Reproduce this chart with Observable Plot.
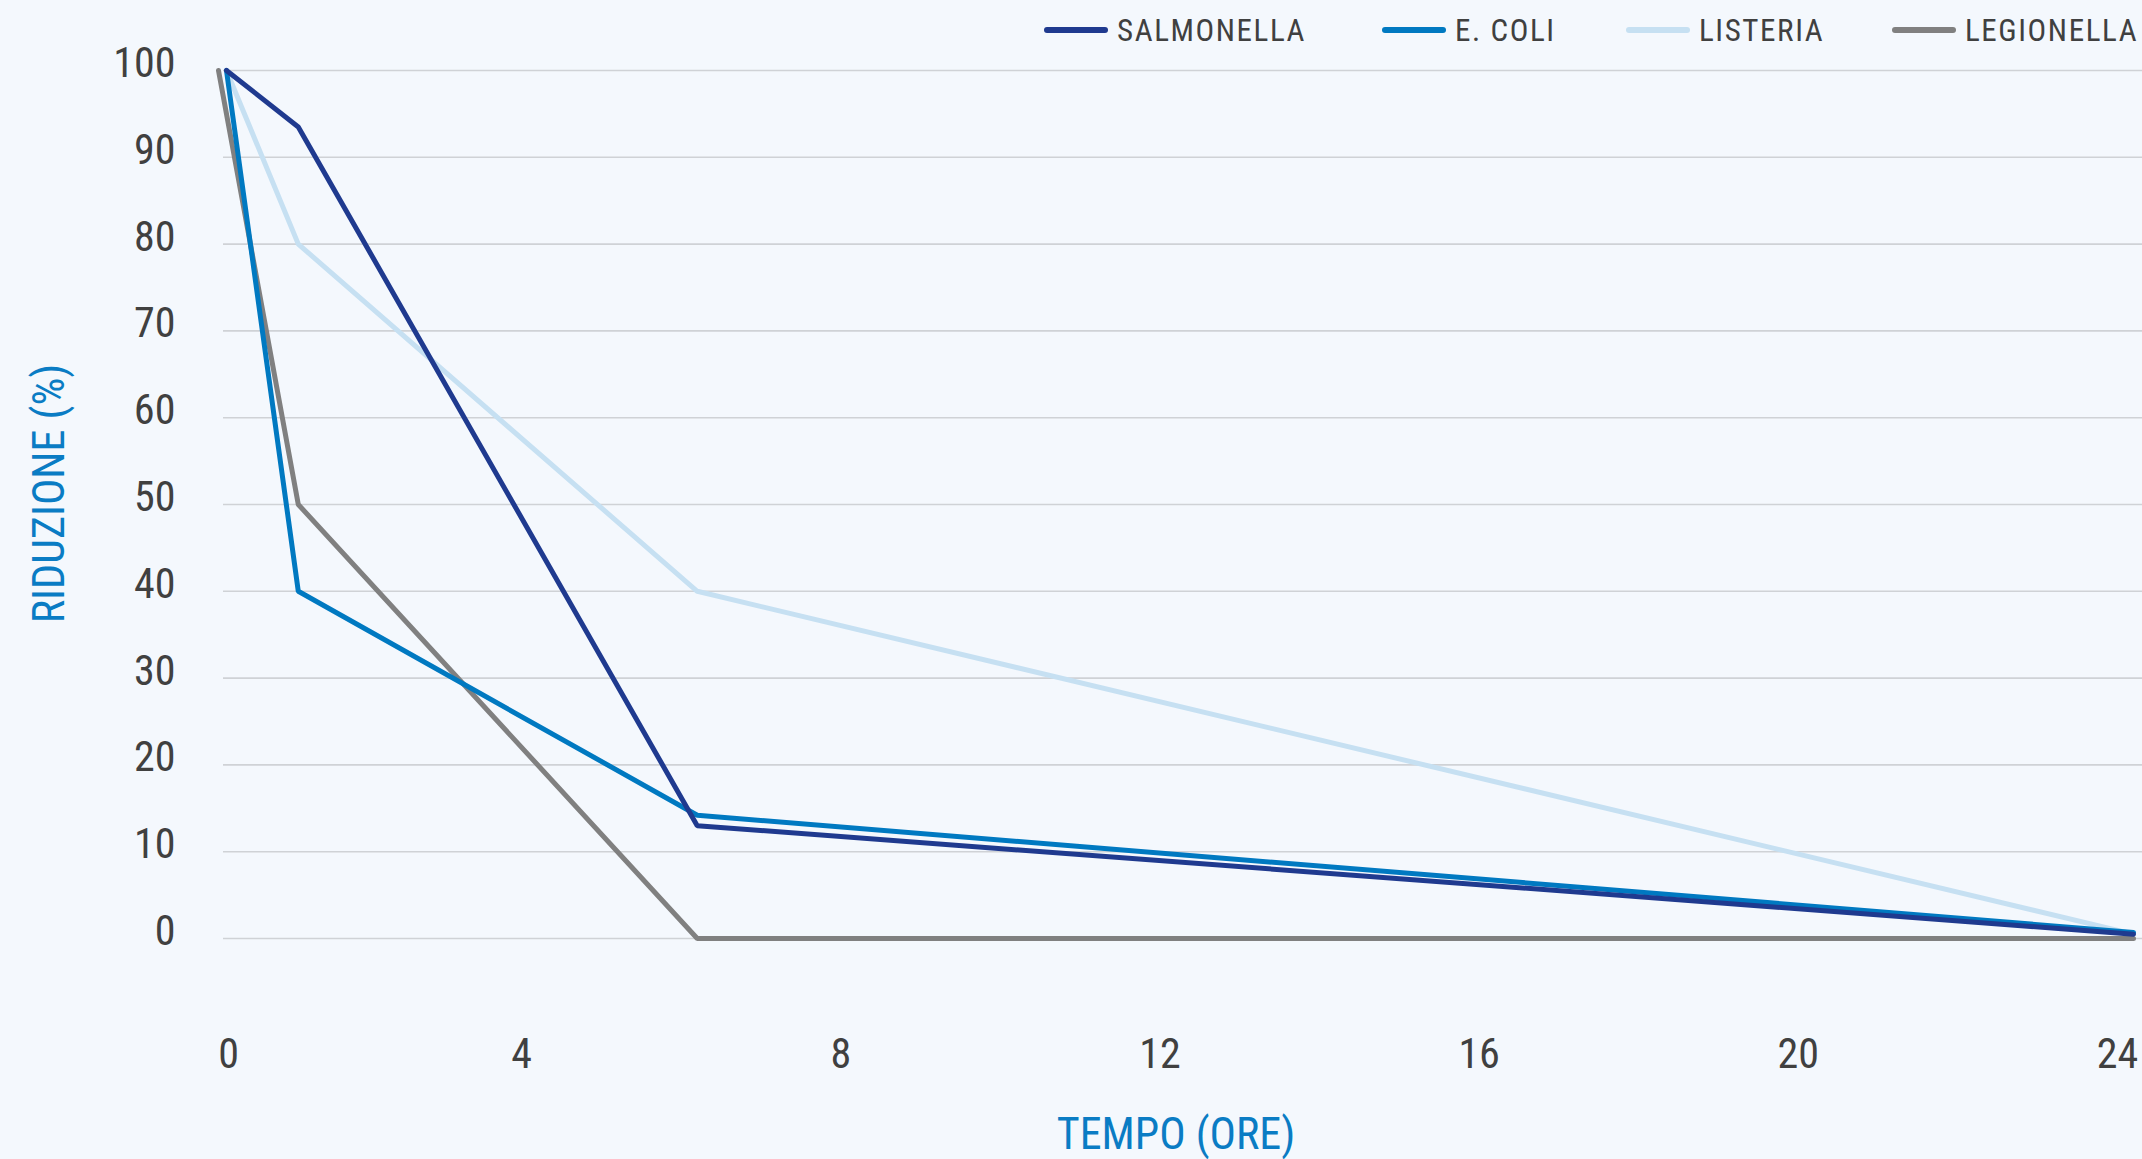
<!DOCTYPE html>
<html>
<head>
<meta charset="utf-8">
<script src="https://cdn.jsdelivr.net/npm/d3@7"></script>
<script src="https://cdn.jsdelivr.net/npm/@observablehq/plot@0.6"></script>
<style>
  html, body { margin: 0; padding: 0; background: #f4f8fd; }
  #wrap { position: relative; width: 2142px; height: 1159px; background: #f4f8fd; font-family: "Roboto Condensed", "Liberation Sans Narrow", "Roboto", sans-serif; }
  #legend { position: absolute; top: 0; left: 0; width: 2142px; height: 60px; }
  .item { position: absolute; top: 12px; display: flex; align-items: center; height: 36px; }
  .sw { width: 64px; height: 6px; border-radius: 3px; margin-right: 9px; }
  .lab { font-size: 31px; color: #404040; letter-spacing: 1.6px; white-space: nowrap; }
  #chart { position: absolute; top: 0; left: 0; }
</style>
</head>
<body>
<div id="wrap">
  <div id="chart"></div>
  <div id="legend"></div>
</div>
<script>
// ---- data ----
const seriesNames = ["SALMONELLA", "E. COLI", "LISTERIA", "LEGIONELLA"];
const seriesColors = ["#1f3a8f", "#0079c1", "#c6e0f2", "#808080"];

const salmonellaHours = [0.1, 1, 6, 24];
const salmonellaValues = [100, 93.5, 13.0, 0.5];

const eColiHours = [0.1, 1, 6, 24];
const eColiValues = [100, 40, 14.2, 0.7];

const listeriaHours = [0.1, 1, 6, 24];
const listeriaValues = [100, 80, 40, 0.5];

const legionellaHours = [0, 1, 6, 24];
const legionellaValues = [100, 50, 0, 0];

const xTicks = [0, 4, 8, 12, 16, 20, 24];
const yTicks = [0, 10, 20, 30, 40, 50, 60, 70, 80, 90, 100];
const xTitle = "TEMPO (ORE)";
const yTitle = "RIDUZIONE (%)";

// ---- build table ----
function rows(name, hours, values) {
  return hours.map((h, i) => ({series: name, hour: h, value: values[i]}));
}
const data = [
  ...rows("SALMONELLA", salmonellaHours, salmonellaValues),
  ...rows("E. COLI", eColiHours, eColiValues),
  ...rows("LISTERIA", listeriaHours, listeriaValues),
  ...rows("LEGIONELLA", legionellaHours, legionellaValues)
];
const drawOrder = ["LISTERIA", "LEGIONELLA", "E. COLI", "SALMONELLA"];

const textColor = "#404040";
const titleColor = "#0a7cc4";

const chart = Plot.plot({
  width: 2142,
  height: 1159,
  marginLeft: 218,
  marginRight: 9,
  marginTop: 70,
  marginBottom: 221,
  style: {background: "transparent", fontFamily: "'Roboto Condensed', 'Liberation Sans Narrow', Roboto, sans-serif", color: textColor},
  x: {domain: [0, 24]},
  y: {domain: [0, 100]},
  color: {domain: seriesNames, range: seriesColors},
  marks: [
    Plot.ruleY(yTicks, {stroke: "#cfd2d6", strokeWidth: 1.6, insetLeft: 5, insetRight: -9}),
    ...drawOrder.map(name =>
      Plot.line(data.filter(d => d.series === name), {
        x: "hour", y: "value", stroke: "series",
        strokeWidth: 5, strokeLinecap: "round", strokeLinejoin: "miter"
      })
    ),
    Plot.axisY(yTicks, {tickSize: 0, tickPadding: 43, fontSize: 42, dy: -7, label: null, fill: textColor}),
    Plot.axisX([0], {tickSize: 0, tickPadding: 100, fontSize: 42, dx: 10, label: null, fill: textColor}),
    Plot.axisX(xTicks.slice(1), {tickSize: 0, tickPadding: 100, fontSize: 42, dx: -16, label: null, fill: textColor}),
    Plot.text([xTitle], {frameAnchor: "bottom", textAnchor: "middle", dy: 196, fontSize: 44, fill: titleColor, lineAnchor: "middle"}),
    Plot.text([yTitle], {frameAnchor: "left", textAnchor: "middle", dx: -169, dy: -11, rotate: -90, fontSize: 44, fill: titleColor, lineAnchor: "middle"})
  ]
});
document.getElementById("chart").appendChild(chart);

// ---- legend ----
const legendLeft = [1044, 1382, 1626, 1892];
const legend = document.getElementById("legend");
seriesNames.forEach((name, i) => {
  const item = document.createElement("div");
  item.className = "item";
  item.style.left = legendLeft[i] + "px";
  const sw = document.createElement("div");
  sw.className = "sw";
  sw.style.background = seriesColors[i];
  const lab = document.createElement("span");
  lab.className = "lab";
  lab.textContent = name;
  item.appendChild(sw);
  item.appendChild(lab);
  legend.appendChild(item);
});
</script>
</body>
</html>
